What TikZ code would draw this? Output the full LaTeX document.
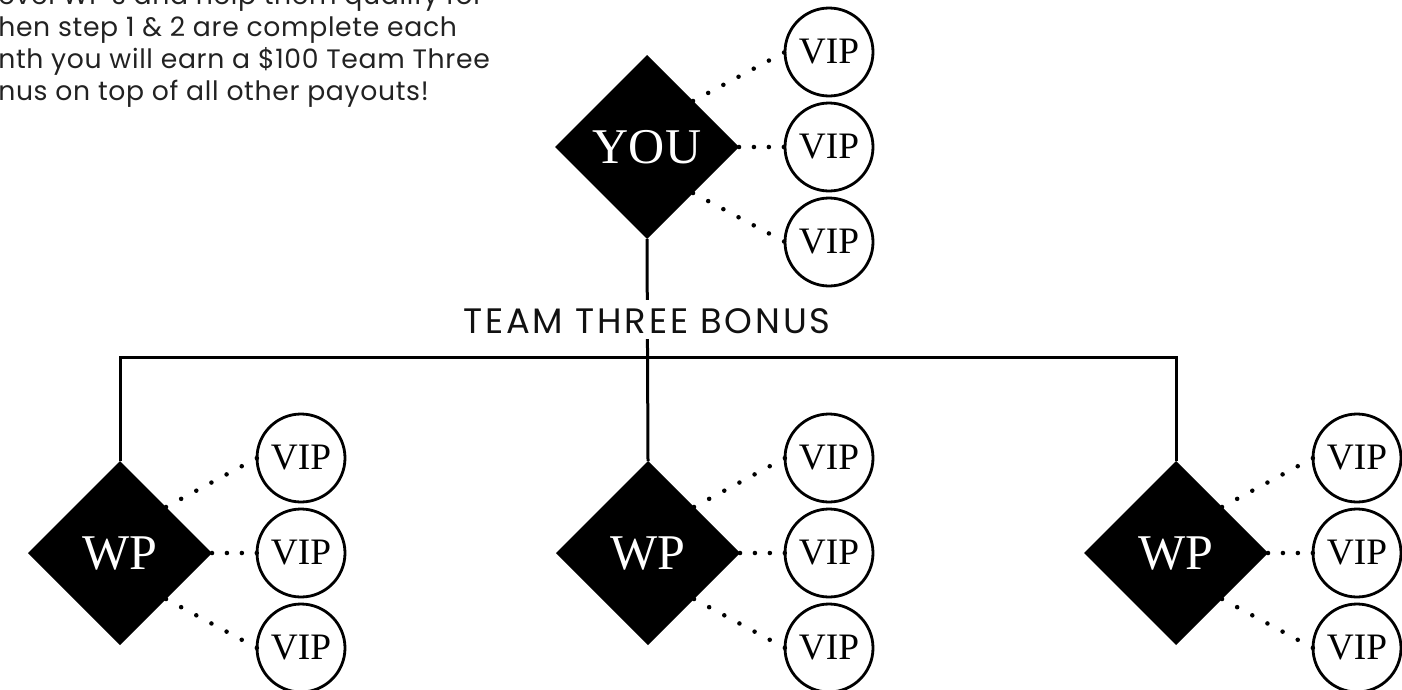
\documentclass[tikz,border=0pt]{standalone}
\usepackage{fontspec}
\newfontfamily\parafont[LetterSpace=2.5]{Poppins}
\newfontfamily\labelfont[LetterSpace=8]{Poppins}
\newfontfamily\serifnodes{Liberation Serif}
\usetikzlibrary{shapes.geometric,calc}
\definecolor{paragray}{HTML}{222222}
\definecolor{labelblack}{HTML}{111111}
\tikzset{
  diam/.style={diamond, aspect=1, fill=black, text=white, minimum width=138pt,
    minimum height=138pt, inner sep=0pt, outer sep=0pt,
    font=\serifnodes\fontsize{37.5}{37.5}\selectfont},
  vip/.style={circle, draw=black, line width=2.1pt, minimum size=66pt,
    inner sep=0pt, outer sep=0pt, font=\serifnodes\fontsize{28}{28}\selectfont},
  conn/.style={line width=2.25pt, black},
  diagdots/.style={line width=3.4pt, line cap=round, dash pattern=on 0pt off 12.9pt},
  flatdots/.style={line width=3.4pt, line cap=round, dash pattern=on 0pt off 11.2pt},
  paraline/.style={anchor=base west, inner sep=0pt, text=paragray,
    font=\parafont\fontsize{20}{24}\selectfont},
  teamlabel/.style={fill=white, anchor=base, inner xsep=4pt, inner ysep=0pt,
    text height=24.75pt, text depth=4.5pt, text=labelblack,
    font=\labelfont\fontsize{26.5}{30}\selectfont}
}
\begin{document}
\begin{tikzpicture}[x=0.75pt,y=-0.75pt]
\useasboundingbox (0,0) rectangle (1402,689);
\clip (0,0) rectangle (1402,689);

% paragraph (cut by the page edge)
\node[paraline] (p1) at (-2,4) {evel WP’s and help them qualify for};
\node[paraline] (p2) at (-2,36) {hen step 1 \& 2 are complete each};
\node[paraline] (p3) at (-2,68) {nth you will earn a \$100 Team Three};
\node[paraline] (p4) at (-2,100) {nus on top of all other payouts!};

% main nodes
\node[diam] (you) at (647,147) {YOU};
\node[diam] (wp1) at (120,553) {WP};
\node[diam] (wp2) at (648,553) {WP};
\node[diam] (wp3) at (1176,553) {WP};

% VIP circles
\node[vip] (y1) at (829,52) {VIP};
\node[vip] (y2) at (829,147) {VIP};
\node[vip] (y3) at (829,242) {VIP};

\node[vip] (a1) at (301,458) {VIP};
\node[vip] (a2) at (301,553) {VIP};
\node[vip] (a3) at (301,648) {VIP};

\node[vip] (b1) at (829,458) {VIP};
\node[vip] (b2) at (829,553) {VIP};
\node[vip] (b3) at (829,648) {VIP};

\node[vip] (c1) at (1357,458) {VIP};
\node[vip] (c2) at (1357,553) {VIP};
\node[vip] (c3) at (1357,648) {VIP};

% dotted connectors
\foreach \d/\v in {you/y, wp1/a, wp2/b, wp3/c}{
  \draw[diagdots] ($(\d.north)!.5!(\d.east)$) -- (\v1.west);
  \draw[flatdots] (\d.east) -- (\v2.west);
  \draw[diagdots] ($(\d.south)!.5!(\d.east)$) -- (\v3.west);
}

% tree connectors
\coordinate (bus) at (648,357);
\draw[conn] (you.south) -- (wp2.north);
\draw[conn] (wp1.north) |- (bus) -| (wp3.north);

% label over the trunk
\node[teamlabel] (team) at (647,333) {TEAM THREE BONUS};
\end{tikzpicture}
\end{document}
